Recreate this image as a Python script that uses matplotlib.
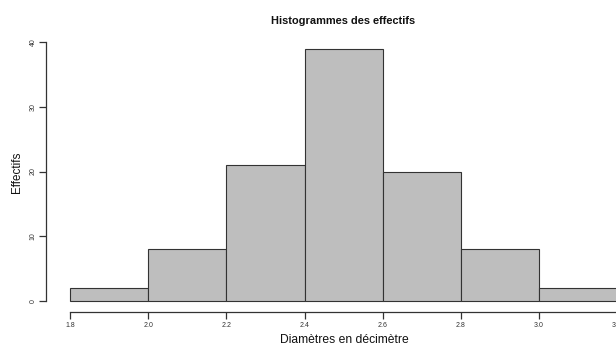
import matplotlib
matplotlib.use("Agg")
import matplotlib.pyplot as plt
import numpy as np

plt.rcParams['font.family'] = ['Liberation Sans', 'DejaVu Sans']

# Data
bin_edges = [1.8, 2.0, 2.2, 2.4, 2.6, 2.8, 3.0, 3.2]
counts = [2, 8, 21, 39, 20, 8, 2]
x_ticks = [1.8, 2.0, 2.2, 2.4, 2.6, 2.8, 3.0, 3.2]
x_tick_labels = ["1.8", "2.0", "2.2", "2.4", "2.6", "2.8", "3.0", "3.2"]
y_ticks = [0, 10, 20, 30, 40]
y_tick_labels = ["0", "10", "20", "30", "40"]

W, H = 616, 345
fig = plt.figure(figsize=(W / 100, H / 100), dpi=100)

# Axes geometry (pixels)
px_per_x = (539 - 70) / 1.2
px_per_y = (300.7 - 42.3) / 40
ax_left_px = 45.7
ax_bottom_px = 312.3
x_lo = 1.8 - (70 - ax_left_px) / px_per_x
x_hi = 3.256
y_lo = -(ax_bottom_px - 300.7) / px_per_y
y_hi = 40.56
ax_right_px = ax_left_px + (x_hi - x_lo) * px_per_x
ax_top_px = ax_bottom_px - (y_hi - y_lo) * px_per_y

ax = fig.add_axes([ax_left_px / W, (H - ax_bottom_px) / H,
                   (ax_right_px - ax_left_px) / W, (ax_bottom_px - ax_top_px) / H])
ax.set_xlim(x_lo, x_hi)
ax.set_ylim(y_lo, y_hi)

lefts = np.array(bin_edges[:-1])
widths = np.diff(bin_edges)
ax.bar(lefts, counts, width=widths, align='edge', color='#BEBEBE',
       edgecolor='#333333', linewidth=0.8)

for s in ['top', 'right']:
    ax.spines[s].set_visible(False)
for s in ['left', 'bottom']:
    ax.spines[s].set_color('#333333')
    ax.spines[s].set_linewidth(0.9)
ax.spines['left'].set_bounds(0, 40)
ax.spines['bottom'].set_bounds(1.8, 3.2)

ax.set_xticks(x_ticks)
ax.set_xticklabels(x_tick_labels, fontsize=5.0, color='#333333')
ax.set_yticks(y_ticks)
ax.set_yticklabels(y_tick_labels, fontsize=5.0, color='#333333', rotation=90, va='center')
ax.tick_params(axis='both', length=5, width=0.9, color='#333333')
ax.tick_params(axis='x', pad=2)
ax.tick_params(axis='y', pad=1.5)

fig.text(17 / W, 1 - 172 / H, "Effectifs", rotation=90, ha='center', va='center',
         fontsize=8.4, color='#111111')
fig.text(344 / W, 1 - 340 / H, "Diamètres en décimètre", ha='center', va='center',
         fontsize=8.7, color='#111111')
fig.text(343.5 / W, 1 - 21 / H, "Histogrammes des effectifs", ha='center', va='center',
         fontsize=7.9, fontweight='bold', color='#111111')

fig.savefig("out.png", dpi=100)
